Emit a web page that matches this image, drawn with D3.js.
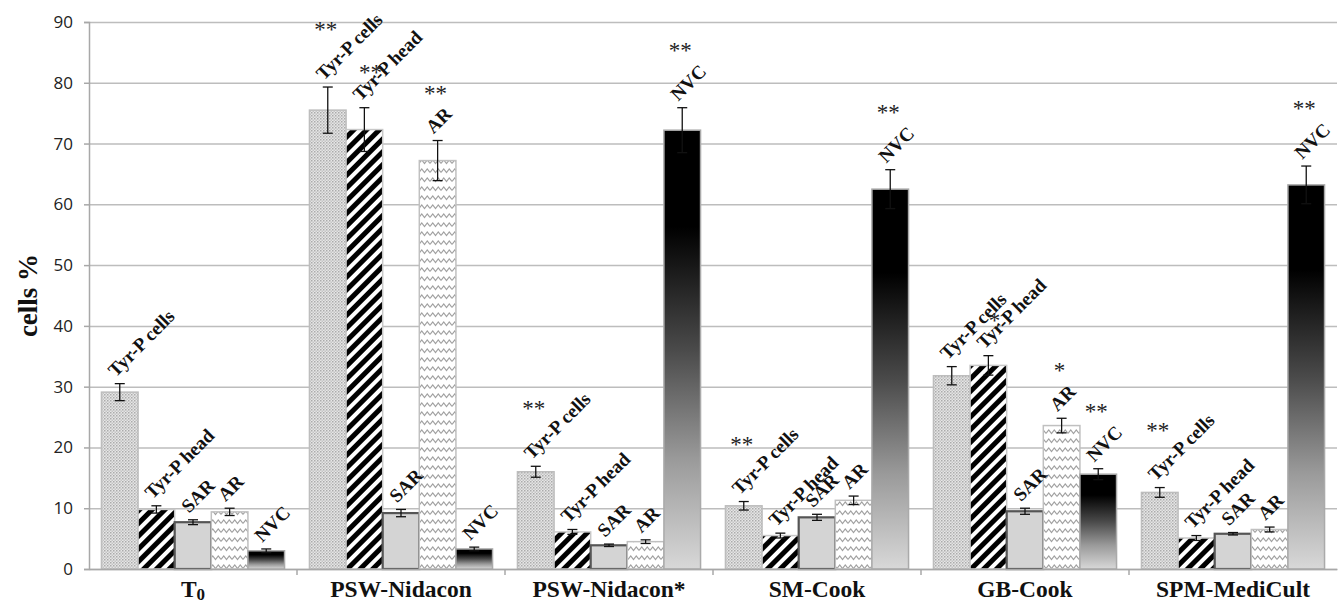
<!DOCTYPE html>
<html>
<head>
<meta charset="utf-8">
<script src="https://cdn.jsdelivr.net/npm/d3@7"></script>
<style>
  body { margin: 0; background: #fff; }
  svg { display: block; }
</style>
</head>
<body>
<div id="chart"></div>
<script>
var svgWidth = 1342;
var svgHeight = 605;

var margin = { top: 22, right: 5, bottom: 36, left: 89 };
var width = svgWidth - margin.left - margin.right;
var height = svgHeight - margin.top - margin.bottom;

// chart data
var categories = ["T0", "PSW-Nidacon", "PSW-Nidacon*", "SM-Cook", "GB-Cook", "SPM-MediCult"];
var series = ["Tyr-P cells", "Tyr-P head", "SAR", "AR", "NVC"];

var tyrCells = [29.1, 75.5, 16.0, 10.4, 31.8, 12.6];
var tyrHead = [9.8, 72.3, 6.1, 5.5, 33.5, 5.1];
var sar = [7.7, 9.2, 3.9, 8.5, 9.5, 5.8];
var ar = [9.4, 67.2, 4.5, 11.3, 23.6, 6.5];
var nvc = [3.0, 3.3, 72.2, 62.5, 15.6, 63.2];

var tyrCellsErr = [1.4, 3.8, 0.9, 0.7, 1.5, 0.8];
var tyrHeadErr = [0.6, 3.6, 0.4, 0.4, 1.6, 0.4];
var sarErr = [0.4, 0.6, 0.2, 0.5, 0.5, 0.2];
var arErr = [0.6, 3.3, 0.3, 0.7, 1.2, 0.4];
var nvcErr = [0.3, 0.3, 3.7, 3.2, 0.9, 3.1];

// significance marks
var tyrCellsSig = ["", "**", "**", "**", "", "**"];
var tyrHeadSig = ["", "**", "", "", "*", ""];
var sarSig = ["", "", "", "", "", ""];
var arSig = ["", "**", "", "", "*", ""];
var nvcSig = ["", "", "**", "**", "**", "**"];

var yTicks = [0, 10, 20, 30, 40, 50, 60, 70, 80, 90];

var allValues = [tyrCells, tyrHead, sar, ar, nvc];
var allErrors = [tyrCellsErr, tyrHeadErr, sarErr, arErr, nvcErr];
var allSig = [tyrCellsSig, tyrHeadSig, sarSig, arSig, nvcSig];

var bars = [];
categories.forEach(function (c, i) {
  series.forEach(function (s, j) {
    bars.push({ cat: c, ser: s, idx: j, value: allValues[j][i], err: allErrors[j][i], sig: allSig[j][i] });
  });
});

var svg = d3.select("#chart")
  .append("svg")
  .attr("width", svgWidth)
  .attr("height", svgHeight);

// patterns and gradient
var defs = svg.append("defs");

var dots = defs.append("pattern")
  .attr("id", "dots")
  .attr("patternUnits", "userSpaceOnUse")
  .attr("width", 3).attr("height", 3);
dots.append("rect").attr("width", 3).attr("height", 3).attr("fill", "#e6e6e6");
dots.append("rect").attr("width", 1.5).attr("height", 1.5).attr("fill", "#ababab");
dots.append("rect").attr("x", 1.5).attr("y", 1.5).attr("width", 1.5).attr("height", 1.5).attr("fill", "#c4c4c4");

var stripes = defs.append("pattern")
  .attr("id", "stripes")
  .attr("patternUnits", "userSpaceOnUse")
  .attr("width", 9).attr("height", 9)
  .attr("patternTransform", "rotate(45)");
stripes.append("rect").attr("width", 9).attr("height", 9).attr("fill", "#fff");
stripes.append("rect").attr("width", 5).attr("height", 9).attr("fill", "#000");

var zig = defs.append("pattern")
  .attr("id", "zigzag")
  .attr("patternUnits", "userSpaceOnUse")
  .attr("width", 11).attr("height", 9);
zig.append("rect").attr("width", 11).attr("height", 9).attr("fill", "#fff");
zig.append("path")
  .attr("d", "M0,6.5 L2.75,3 L5.5,6.5 L8.25,3 L11,6.5")
  .attr("fill", "none")
  .attr("stroke", "#a0a0a0")
  .attr("stroke-width", 1.2);

var grad = defs.append("linearGradient")
  .attr("id", "fade")
  .attr("x1", 0).attr("y1", 0).attr("x2", 0).attr("y2", 1);
grad.append("stop").attr("offset", "0").attr("stop-color", "#000");
grad.append("stop").attr("offset", "0.22").attr("stop-color", "#000");
grad.append("stop").attr("offset", "0.5").attr("stop-color", "#4a4a4a");
grad.append("stop").attr("offset", "0.75").attr("stop-color", "#9a9a9a");
grad.append("stop").attr("offset", "1").attr("stop-color", "#d8d8d8");

var fills = ["url(#dots)", "url(#stripes)", "#d4d4d4", "url(#zigzag)", "url(#fade)"];
var strokes = ["#bdbdbd", "#c8c8c8", "#555", "#c0c0c0", "#aaa"];
var strokeWidths = [1.5, 1.5, 2.2, 1.5, 1.5];
// where the stars sit relative to the error bar top, per series
var starDx = [-2, 6, 0, -2, -2];
var starDy = [-50, -28, -40, -40, -50];

var chartGroup = svg.append("g")
  .attr("transform", `translate(${margin.left}, ${margin.top})`);

// scales
var x0 = d3.scaleBand().domain(categories).range([0, width]);
var x1 = d3.scaleBand().domain(series).range([0, x0.bandwidth()]).paddingOuter(0.34);
var yLinearScale = d3.scaleLinear().domain([0, 90]).range([height, 0]);

// gridlines
chartGroup.append("g")
  .call(d3.axisLeft(yLinearScale).tickValues(yTicks).tickSize(-width).tickFormat(""))
  .call(g => g.select(".domain").remove())
  .call(g => g.selectAll("line").attr("stroke", "#bdbdbd").attr("stroke-width", 1.5));

// y axis
var leftAxis = chartGroup.append("g")
  .call(d3.axisLeft(yLinearScale).tickValues(yTicks).tickSize(5).tickPadding(11));
leftAxis.select(".domain").attr("stroke", "#a8a8a8").attr("stroke-width", 1.5);
leftAxis.selectAll("line").attr("stroke", "#a8a8a8").attr("stroke-width", 1.5);
leftAxis.selectAll("text")
  .attr("font-family", "'Open Sans', sans-serif")
  .attr("font-size", 17)
  .attr("fill", "#222");

// bars
chartGroup.selectAll(".bar")
  .data(bars)
  .enter()
  .append("rect")
  .attr("class", "bar")
  .attr("x", d => x0(d.cat) + x1(d.ser))
  .attr("y", d => yLinearScale(d.value))
  .attr("width", x1.bandwidth())
  .attr("height", d => height - yLinearScale(d.value))
  .attr("fill", d => fills[d.idx])
  .attr("stroke", d => strokes[d.idx])
  .attr("stroke-width", d => strokeWidths[d.idx]);

// x axis
var bottomAxis = chartGroup.append("g")
  .attr("transform", `translate(0, ${height})`)
  .call(d3.axisBottom(x0).tickSize(0).tickFormat(""));
bottomAxis.select(".domain").attr("stroke", "#a8a8a8").attr("stroke-width", 1.5);

chartGroup.append("g")
  .selectAll("line")
  .data(categories.slice(1))
  .enter()
  .append("line")
  .attr("x1", d => x0(d)).attr("x2", d => x0(d))
  .attr("y1", height).attr("y2", height + 6)
  .attr("stroke", "#a8a8a8").attr("stroke-width", 1.5);

var xLabels = chartGroup.append("g")
  .selectAll("text")
  .data(categories)
  .enter()
  .append("text")
  .attr("x", d => x0(d) + x0.bandwidth() / 2)
  .attr("y", height + 28)
  .attr("text-anchor", "middle")
  .attr("font-family", "'Liberation Serif', 'Times New Roman', serif")
  .attr("font-weight", "bold")
  .attr("font-size", 23.5)
  .attr("fill", "#111");
xLabels.each(function (d) {
  var t = d3.select(this);
  if (d === "T0") {
    t.append("tspan").text("T");
    t.append("tspan").attr("font-size", 17).attr("dy", 3).text("0");
  } else {
    t.text(d);
  }
});

// error bars
var errG = chartGroup.append("g").attr("stroke", "#111").attr("stroke-width", 1.3);
bars.forEach(function (d) {
  var cx = x0(d.cat) + x1(d.ser) + x1.bandwidth() / 2;
  var yt = yLinearScale(d.value + d.err);
  var yb = yLinearScale(d.value - d.err);
  errG.append("line").attr("x1", cx).attr("x2", cx).attr("y1", yt).attr("y2", yb);
  errG.append("line").attr("x1", cx - 5).attr("x2", cx + 5).attr("y1", yt).attr("y2", yt);
  errG.append("line").attr("x1", cx - 5).attr("x2", cx + 5).attr("y1", yb).attr("y2", yb);
});

// rotated bar labels
chartGroup.selectAll(".barLabel")
  .data(bars)
  .enter()
  .append("text")
  .attr("class", "barLabel")
  .attr("transform", function (d) {
    var cx = x0(d.cat) + x1(d.ser) + x1.bandwidth() / 2;
    var yt = yLinearScale(d.value + d.err);
    return `translate(${cx - 4}, ${yt - 6}) rotate(-45)`;
  })
  .attr("font-family", "'Liberation Serif', 'Times New Roman', serif")
  .attr("font-weight", "bold")
  .attr("font-size", 19)
  .attr("fill", "#111")
  .text(d => d.ser);

// stars
chartGroup.selectAll(".sig")
  .data(bars.filter(d => d.sig !== ""))
  .enter()
  .append("text")
  .attr("class", "sig")
  .attr("x", d => x0(d.cat) + x1(d.ser) + x1.bandwidth() / 2 + starDx[d.idx])
  .attr("y", d => yLinearScale(d.value + d.err) + starDy[d.idx])
  .attr("text-anchor", "middle")
  .attr("font-family", "'Liberation Serif', 'Times New Roman', serif")
  .attr("font-size", 23)
  .attr("fill", "#222")
  .text(d => d.sig);

// y axis title
svg.append("text")
  .attr("transform", `translate(37, ${margin.top + height / 2}) rotate(-90)`)
  .attr("text-anchor", "middle")
  .attr("font-family", "'Liberation Serif', 'Times New Roman', serif")
  .attr("font-weight", "bold")
  .attr("font-size", 27)
  .attr("fill", "#111")
  .text("cells %");
</script>
</body>
</html>
